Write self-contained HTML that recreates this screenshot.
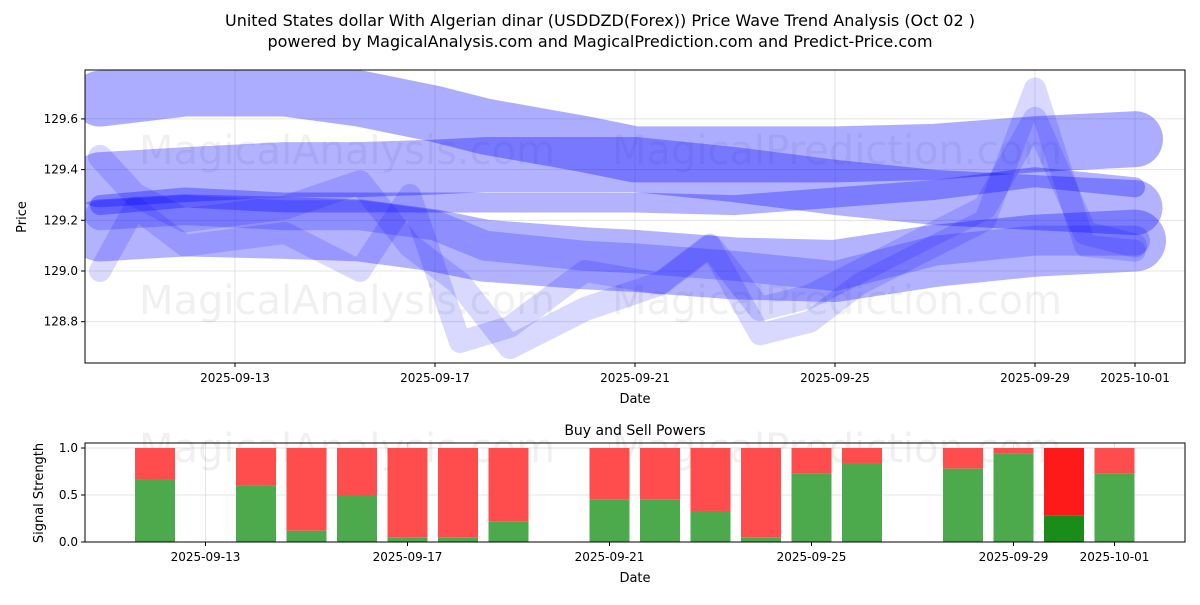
<!DOCTYPE html>
<html><head><meta charset="utf-8"><style>
body{margin:0;background:#fff;font-family:"Liberation Sans","DejaVu Sans",sans-serif}
svg text{font-family:"DejaVu Sans","Liberation Sans",sans-serif}
</style></head><body>
<svg id="c" width="1200" height="600" xmlns="http://www.w3.org/2000/svg">
<text x="600" y="26" text-anchor="middle" font-size="16">United States dollar With Algerian dinar (USDDZD(Forex)) Price Wave Trend Analysis (Oct 02 )</text>
<text x="600" y="47" text-anchor="middle" font-size="16">powered by MagicalAnalysis.com and MagicalPrediction.com and Predict-Price.com</text>
<g id="topPanel"></g>
<g id="botPanel"></g>
</svg>
<script>
const xTicks=["2025-09-13","2025-09-17","2025-09-21","2025-09-25","2025-09-29","2025-10-01"];
const xTickDays=[3,7,11,15,19,21];
const yTicks=[128.8,129.0,129.2,129.4,129.6];
const bandDays=[0.3,2,4,5.5,7,8,10,11,13,15,17,19,21];
const band1=[129.68,129.72,129.72,129.68,129.62,129.57,129.50,129.46,129.46,129.46,129.47,129.50,129.52];
const band2=[129.36,129.38,129.40,129.40,129.41,129.42,129.42,129.42,129.38,129.33,129.29,129.27,129.25];
const band3=[129.26,129.29,129.27,129.27,129.27,129.27,129.27,129.27,129.26,129.29,129.32,129.37,129.33];
const band4=[129.16,129.18,129.17,129.16,129.12,129.08,129.05,129.04,129.01,129.00,129.06,129.10,129.12];
const band5=[129.22,129.24,129.22,129.22,129.18,129.10,129.06,129.05,129.02,128.98,129.08,129.12,129.12];
const zigDays1=[0.3,1,2,4,5.5,6.5,7.5,8.5,10,11.5,12.5,13.5,14.5,15.5,17,18,19,20,21];
const zig1=[129.0,129.25,129.1,129.15,129.0,129.3,128.72,128.78,129.0,128.95,129.1,128.75,128.8,128.95,129.1,129.2,129.72,129.1,129.08];
const zig2=[129.45,129.3,129.2,129.25,129.35,129.1,128.95,128.7,128.85,128.95,129.1,128.85,128.9,129.0,129.15,129.25,129.6,129.15,129.1];
const sigDays=[2,4,5,6,7,8,9,11,12,13,14,15,16,18,19,20,21];
const buyVals=[0.67,0.6,0.12,0.5,0.05,0.05,0.22,0.45,0.45,0.33,0.05,0.73,0.84,0.78,0.94,0.28,0.73];
const NS="http://www.w3.org/2000/svg";
function mk(t,a,p){const e=document.createElementNS(NS,t);for(const k in a)e.setAttribute(k,a[k]);p.appendChild(e);return e;}
const topG=document.getElementById('topPanel'),botG=document.getElementById('botPanel');
const X=d=>85+50*d, Y=v=>271-(v-129)*253.5;
const L=85,R=1185,T=70,B=363;
xTickDays.forEach((d,i)=>{
 const g=mk('line',{x1:X(d),x2:X(d),y1:T,y2:B,stroke:'#ddd','stroke-width':0.8},topG);
 
 mk('line',{x1:X(d),x2:X(d),y1:B,y2:B+4,stroke:'#000'},topG);
 const t=mk('text',{x:X(d),y:B+19,'text-anchor':'middle','font-size':12},topG);t.textContent=xTicks[i];
 
});
yTicks.forEach(v=>{
 const g=mk('line',{x1:L,x2:R,y1:Y(v),y2:Y(v),stroke:'#ddd','stroke-width':0.8},topG);
 
 mk('line',{x1:L-4,x2:L,y1:Y(v),y2:Y(v),stroke:'#000'},topG);
 const t=mk('text',{x:L-7,y:Y(v)+4,'text-anchor':'end','font-size':12},topG);t.textContent=v.toFixed(1);
 
});
[['MagicalAnalysis.com',347,150],['MagicalPrediction.com',837,150],['MagicalAnalysis.com',347,300],['MagicalPrediction.com',837,300]].forEach(w=>{
 const t=mk('text',{x:w[1],y:w[2]+14,'text-anchor':'middle','font-size':40,fill:'#000','fill-opacity':0.06},topG);t.textContent=w[0];
 
});
const clip=mk('clipPath',{id:'cp'},mk('defs',{},topG));mk('rect',{x:L,y:T,width:R-L,height:B-T},clip);
const sg=mk('g',{'clip-path':'url(#cp)'},topG);
function line(days,vals,w,op,name,cap){
 const p=mk('polyline',{points:days.map((d,i)=>X(d)+','+Y(vals[i])).join(' '),fill:'none',stroke:'#0000ff','stroke-opacity':op,'stroke-width':w,'stroke-linejoin':'round','stroke-linecap':cap},sg);
 
}
line(zigDays1,zig1,22,0.15,'wave-line-zigzag-1','round');
line(zigDays1,zig2,24,0.15,'wave-line-zigzag-2','round');
line(bandDays,band1,56,0.32,'wave-band-1','round');
line(bandDays,band2,55,0.3,'wave-band-2','round');
line(bandDays,band4,62,0.3,'wave-band-4','round');
line(bandDays,band5,30,0.2,'wave-band-5','round');
line(bandDays,band3,20,0.3,'wave-band-3','round');
mk('rect',{x:L,y:T,width:R-L,height:B-T,fill:'none',stroke:'#000','stroke-width':1},topG);
let t=mk('text',{x:635,y:B+40,'text-anchor':'middle','font-size':13},topG);t.textContent='Date';

t=mk('text',{x:26,y:217,'text-anchor':'middle','font-size':13,transform:'rotate(-90 26 217)'},topG);t.textContent='Price';

const BT=443,BB=542;const X2=d=>54+50.5*d,Y2=v=>542-v*94;
t=mk('text',{x:635,y:435,'text-anchor':'middle','font-size':14},botG);t.textContent='Buy and Sell Powers';

[0,0.5,1].forEach(v=>{
 const g=mk('line',{x1:L,x2:R,y1:Y2(v),y2:Y2(v),stroke:'#ddd','stroke-width':0.8},botG);
 
 mk('line',{x1:L-4,x2:L,y1:Y2(v),y2:Y2(v),stroke:'#000'},botG);
 const tt=mk('text',{x:L-7,y:Y2(v)+4,'text-anchor':'end','font-size':12},botG);tt.textContent=v.toFixed(1);
 
});
xTickDays.forEach((d,i)=>{
 const g=mk('line',{x1:X2(d),x2:X2(d),y1:BT,y2:BB,stroke:'#ddd','stroke-width':0.8},botG);
 
 mk('line',{x1:X2(d),x2:X2(d),y1:BB,y2:BB+4,stroke:'#000'},botG);
 const tt=mk('text',{x:X2(d),y:BB+19,'text-anchor':'middle','font-size':12},botG);tt.textContent=xTicks[i];
 
});
[['MagicalAnalysis.com',347],['MagicalPrediction.com',837]].forEach(w=>{
 const tt=mk('text',{x:w[1],y:462,'text-anchor':'middle','font-size':40,fill:'#000','fill-opacity':0.06},botG);tt.textContent=w[0];
 
});
sigDays.forEach((d,i)=>{
 const b=buyVals[i],strong=(sigDays[i]===20);
 const r=mk('rect',{x:X2(d)-20,y:Y2(1),width:40,height:Y2(b)-Y2(1),fill:strong?'#ff1a1a':'#ff4d4d'},botG);
 
 const g=mk('rect',{x:X2(d)-20,y:Y2(b),width:40,height:Y2(0)-Y2(b),fill:strong?'#1a8c1a':'#4caa4c'},botG);
 
});
mk('rect',{x:L,y:BT,width:R-L,height:BB-BT,fill:'none',stroke:'#000','stroke-width':1},botG);
t=mk('text',{x:635,y:582,'text-anchor':'middle','font-size':13},botG);t.textContent='Date';

t=mk('text',{x:43,y:493,'text-anchor':'middle','font-size':13,transform:'rotate(-90 43 493)'},botG);t.textContent='Signal Strength';

</script>
</body></html>
